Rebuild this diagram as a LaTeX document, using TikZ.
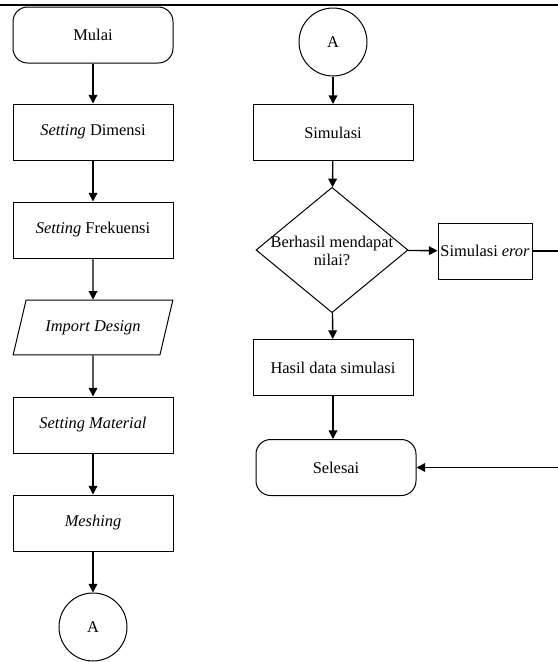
\documentclass[tikz,border=0pt]{standalone}
\usepackage{fontspec}
\setmainfont{Liberation Serif}
\usepackage{tikz}
\usetikzlibrary{shapes.geometric,arrows.meta}

\tikzset{
  proc/.style={draw, line width=0.75, minimum width=120pt, minimum height=42pt, inner sep=1pt},
  term/.style={proc, rounded corners=11pt},
  conn/.style={draw, line width=0.75, circle, minimum size=51pt, inner sep=0pt},
  iobox/.style={draw, line width=0.75, trapezium, trapezium left angle=61, trapezium right angle=119,
    trapezium stretches=true, minimum width=120pt, minimum height=41pt, inner sep=1pt},
  decide/.style={draw, line width=0.75, diamond, minimum width=114pt, minimum height=94pt, inner sep=0pt},
  flow/.style={line width=1, -{Triangle[length=6.5pt,width=6.5pt]}},
}

\begin{document}
\begin{tikzpicture}[x=0.75pt,y=0.75pt,yscale=-1,font=\fontsize{12.3}{13.5}\selectfont]
\useasboundingbox (0,0) rectangle (558,662);
\clip (0,0) rectangle (558,662);

%Straight Lines [top rule]
\draw [line width=2.2] (0,5) -- (558,5) ;

%Left column
\node [term] (mulai) at (93,35) {Mulai};
\node [proc] (dimensi) at (93,132) {\textit{Setting} Dimensi};
\node [proc] (frek) at (93,230) {\textit{Setting} Frekuensi};
\node [iobox] (import) at (93,327.5) {\textit{Import Design}};
\node [proc] (material) at (93,425) {\textit{Setting Material}};
\node [proc] (meshing) at (93,523) {\textit{Meshing}};
\node [conn] (konA) at (93,627) {A};

%Right column
\node [conn] (konB) at (333,42) {A};
\node [proc] (simulasi) at (333,132.5) {Simulasi};
\node [decide] (cek) at (332,250) {};
% Text Node
\node [align=center, inner sep=0pt] (cektext) at (332,251) {Berhasil mendapat\\nilai?};
\node [proc, minimum width=70.5pt] (eror) at (485,251) {Simulasi \textit{eror}};
\node [proc] (hasil) at (333,367.5) {Hasil data simulasi};
\node [term] (selesai) at (336,467.5) {Selesai};

%Arrows
\draw [flow] (mulai) -- (dimensi) ;
\draw [flow] (dimensi) -- (frek) ;
\draw [flow] (frek) -- (import) ;
\draw [flow] (import) -- (material) ;
\draw [flow] (material) -- (meshing) ;
\draw [flow] (meshing) -- (konA) ;
\draw [flow] (konB) -- (simulasi) ;
\draw [flow] (simulasi) -- (cek) ;
\draw [flow] (cek) -- (eror) ;
\draw [flow] (cek) -- (hasil) ;
\draw [flow] (hasil.south) -- (hasil.south |- selesai.north) ;
\draw [flow] (eror.east) -- (575,251) |- (selesai.east) ;

\end{tikzpicture}
\end{document}
